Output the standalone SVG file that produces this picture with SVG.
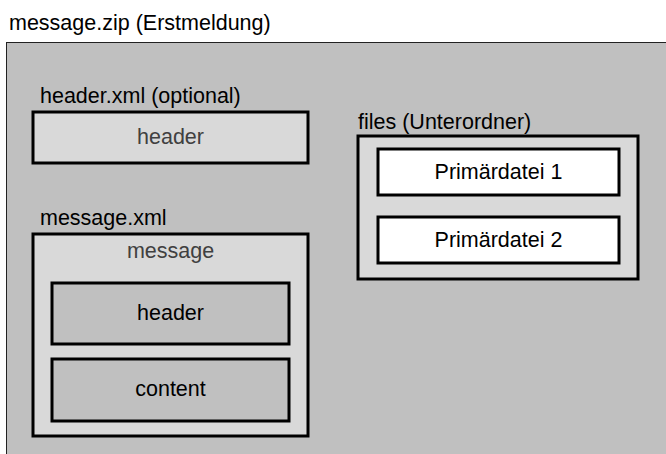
<svg xmlns="http://www.w3.org/2000/svg" width="666" height="454" viewBox="0 0 666 454">
  <style>
    text { font-family: "Liberation Sans", Arial, sans-serif; font-size: 21.5px; fill: #000; }
    .mid { text-anchor: middle; }
    .dim { fill: #404040; }
    .box { stroke: #000; stroke-width: 3; }
    .light { fill: #d9d9d9; }
    .grey { fill: #c0c0c0; }
    .white { fill: #fff; }
  </style>
  <rect width="666" height="454" fill="#fff"/>

  <!-- archive container -->
  <g id="zip">
    <rect x="6.5" y="42.5" width="670" height="420" fill="#c0c0c0" stroke="#222" stroke-width="1"/>
    <text x="9" y="30">message.zip (Erstmeldung)</text>
  </g>

  <!-- optional header file -->
  <g id="header-xml">
    <text x="40" y="103">header.xml (optional)</text>
    <rect class="box light" x="33" y="112" width="275" height="51"/>
    <text class="mid dim" x="170.5" y="144">header</text>
  </g>

  <!-- message file with its two parts -->
  <g id="message-xml">
    <text x="40" y="225">message.xml</text>
    <rect class="box light" x="33" y="234" width="275" height="202"/>
    <text class="mid dim" x="170.5" y="258">message</text>
    <g id="msg-header">
      <rect class="box grey" x="52" y="283" width="237" height="61"/>
      <text class="mid" x="170.5" y="320">header</text>
    </g>
    <g id="msg-content">
      <rect class="box grey" x="52" y="359" width="237" height="62"/>
      <text class="mid" x="170.5" y="396">content</text>
    </g>
  </g>

  <!-- subfolder with primary files -->
  <g id="files">
    <text x="358" y="129">files (Unterordner)</text>
    <rect class="box light" x="358" y="136" width="280" height="143"/>
    <g id="primary-1">
      <rect class="box white" x="378" y="149" width="241" height="46"/>
      <text class="mid" x="498.5" y="179">Primärdatei 1</text>
    </g>
    <g id="primary-2">
      <rect class="box white" x="378" y="217" width="241" height="46"/>
      <text class="mid" x="498.5" y="247">Primärdatei 2</text>
    </g>
  </g>

  <!-- no connectors in this diagram -->
  <g id="connectors"/>
</svg>
